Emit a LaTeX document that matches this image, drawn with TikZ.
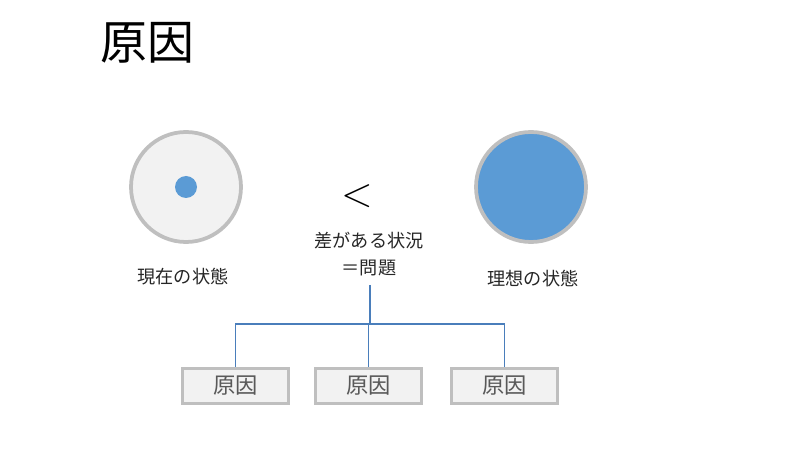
\documentclass[tikz,border=0pt]{standalone}
\usepackage{fontspec}
\setmainfont{Noto Sans CJK JP}
\usepackage{tikz}
\usetikzlibrary{positioning}
\usepackage{xcolor}
\definecolor{ringgray}{HTML}{BFBFBF}
\definecolor{palegray}{HTML}{F2F2F2}
\definecolor{dotblue}{HTML}{5B9BD5}
\definecolor{linkblue}{HTML}{4A7EBB}
\definecolor{textgray}{HTML}{595959}

\begin{document}
\begin{tikzpicture}[x=0.03cm, y=-0.03cm,
    state/.style={circle, draw=ringgray, line width=3.2pt, inner sep=0pt, minimum size=3.3cm},
    cause/.style={rectangle, draw=ringgray, fill=palegray, line width=2.4pt, minimum width=3.18cm, minimum height=1.05cm, inner sep=0pt, text=textgray, font=\fontsize{19}{22}\selectfont},
    label/.style={font=\fontsize{15.5}{19}\selectfont, text=black!85, align=center},
    link/.style={draw=linkblue, line width=1.6pt}]
    \useasboundingbox (0,0) rectangle (800,455);
    % title
    \node[anchor=west, inner sep=0pt, font=\fontsize{40}{44}\selectfont] (title) at (100,43) {原因};
    % current and ideal state
    \node[state, fill=palegray] (now) at (186,187) {};
    \fill[dotblue] (now.center) circle (11);
    \node[state, fill=dotblue] (ideal) at (531,187) {};
    \node[label] (nowtext) at (183,277) {現在の状態};
    \node[label] (idealtext) at (533,279) {理想の状態};
    % comparison
    \node[inner sep=0pt, scale=2.05, font=\LARGE] (less) at (357,196) {$<$};
    \node[label, font=\fontsize{15.5}{23}\selectfont] (gap) at (369,254) {差がある状況\\＝問題};
    % causes
    \node[cause] (c1) at (235.5,386) {原因};
    \node[cause] (c2) at (368.5,386) {原因};
    \node[cause] (c3) at (504.5,386) {原因};
    \coordinate (top) at (370,285);
    \coordinate (split) at (370,324);
    \draw[link] (top) -- (split);
    \draw[link] (split) -| (c1.north);
    \draw[link] (split) -| (c3.north);
    \draw[link] (split) -- (split -| c2.north) -- (c2.north);
\end{tikzpicture}
\end{document}
